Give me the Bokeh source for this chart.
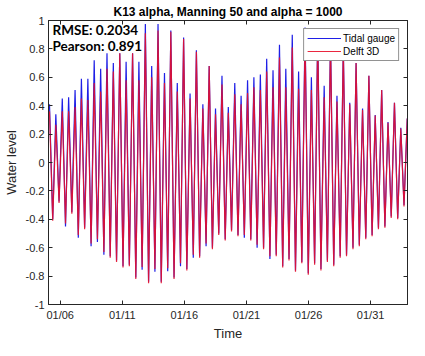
from bokeh.plotting import figure
from bokeh.models import (Range1d, FixedTicker, LinearAxis, Legend, LegendItem,
                          Label, Title, ColumnDataSource)
from bokeh.embed import file_html
from bokeh.resources import INLINE

# ---------------- data ----------------
# time is given in days after 01/06 00:00
high_days = [-0.86, -0.35, 0.17, 0.68, 1.20, 1.71, 2.23, 2.74, 3.26, 3.77,
             4.28, 4.80, 5.31, 5.83, 6.34, 6.86, 7.37, 7.88, 8.40, 8.91,
             9.43, 9.94, 10.46, 10.97, 11.49, 12.00, 12.51, 13.03, 13.54, 14.06,
             14.57, 15.09, 15.60, 16.12, 16.63, 17.14, 17.66, 18.17, 18.69, 19.20,
             19.72, 20.23, 20.74, 21.26, 21.77, 22.29, 22.80, 23.32, 23.83, 24.35,
             24.86, 25.37, 25.89, 26.40, 26.92, 27.43, 27.95]
high_gauge = [0.41, 0.34, 0.45, 0.46, 0.51, 0.59, 0.59, 0.72, 0.66, 0.77,
              0.70, 0.77, 0.71, 0.77, 0.71, 0.975, 0.68, 0.975, 0.63, 0.93,
              0.56, 0.88, 0.485, 0.79, 0.41, 0.68, 0.38, 0.61, 0.39, 0.56,
              0.47, 0.58, 0.60, 0.62, 0.73, 0.65, 0.83, 0.66, 0.90, 0.64,
              0.95, 0.60, 0.93, 0.54, 0.88, 0.47, 0.82, 0.42, 0.70, 0.38,
              0.61, 0.335, 0.51, 0.285, 0.42, 0.245, 0.31]
high_delft = [0.36, 0.265, 0.36, 0.36, 0.39, 0.45, 0.44, 0.56, 0.50, 0.66,
              0.64, 0.77, 0.58, 0.77, 0.58, 0.91, 0.60, 0.93, 0.56, 0.92,
              0.50, 0.87, 0.45, 0.78, 0.38, 0.68, 0.34, 0.55, 0.35, 0.48,
              0.41, 0.49, 0.53, 0.51, 0.64, 0.53, 0.74, 0.53, 0.81, 0.52,
              0.88, 0.51, 0.88, 0.46, 0.85, 0.43, 0.80, 0.41, 0.70, 0.37,
              0.61, 0.33, 0.51, 0.28, 0.42, 0.24, 0.31]

low_days = [-0.60, -0.09, 0.43, 0.94, 1.46, 1.97, 2.49, 3.00, 3.52, 4.03,
            4.54, 5.06, 5.57, 6.09, 6.60, 7.12, 7.63, 8.14, 8.66, 9.17,
            9.69, 10.20, 10.72, 11.23, 11.75, 12.26, 12.77, 13.29, 13.80, 14.32,
            14.83, 15.35, 15.86, 16.38, 16.89, 17.40, 17.92, 18.43, 18.95, 19.46,
            19.98, 20.49, 21.00, 21.52, 22.03, 22.55, 23.06, 23.58, 24.09, 24.61,
            25.12, 25.63, 26.15, 26.66, 27.18, 27.69]
low_gauge = [-0.40, -0.275, -0.45, -0.35, -0.53, -0.46, -0.59, -0.56, -0.65, -0.66,
             -0.69, -0.73, -0.72, -0.81, -0.755, -0.84, -0.77, -0.84, -0.765, -0.81,
             -0.73, -0.75, -0.67, -0.66, -0.59, -0.60, -0.50, -0.54, -0.475, -0.51,
             -0.53, -0.54, -0.60, -0.60, -0.68, -0.65, -0.73, -0.68, -0.76, -0.70,
             -0.78, -0.71, -0.75, -0.69, -0.72, -0.66, -0.65, -0.60, -0.58, -0.53,
             -0.51, -0.46, -0.45, -0.38, -0.39, -0.30]
low_delft = [-0.41, -0.285, -0.43, -0.36, -0.51, -0.47, -0.57, -0.54, -0.63, -0.67,
             -0.70, -0.74, -0.73, -0.82, -0.735, -0.85, -0.75, -0.85, -0.745, -0.82,
             -0.71, -0.76, -0.65, -0.67, -0.57, -0.61, -0.51, -0.55, -0.485, -0.52,
             -0.51, -0.55, -0.58, -0.61, -0.66, -0.66, -0.74, -0.69, -0.77, -0.71,
             -0.79, -0.72, -0.76, -0.70, -0.73, -0.67, -0.66, -0.61, -0.59, -0.54,
             -0.52, -0.47, -0.46, -0.39, -0.40, -0.31]

x_limit_days = [-0.94, 27.97]
x_tick_days = [0, 5, 10, 15, 20, 25]
x_tick_labels = ["01/06", "01/11", "01/16", "01/21", "01/26", "01/31"]
y_ticks = [-1, -0.8, -0.6, -0.4, -0.2, 0, 0.2, 0.4, 0.6, 0.8, 1]
y_tick_labels = ["-1", "-0.8", "-0.6", "-0.4", "-0.2", "0", "0.2", "0.4", "0.6", "0.8", "1"]

title_text = "K13 alpha, Manning 50 and alpha = 1000"
x_label = "Time"
y_label = "Water level"
series_names = ["Tidal gauge", "Delft 3D"]
stats_text = ["RMSE: 0.2034", "Pearson: 0.891"]

# ---------------- build table ----------------
pts = sorted(zip(high_days + low_days, high_gauge + low_gauge, high_delft + low_delft))
src = ColumnDataSource(dict(day=[t[0] for t in pts],
                            gauge=[t[1] for t in pts],
                            delft=[t[2] for t in pts]))

AX = "#262626"
FONT = "Liberation Sans"

p = figure(width=409, height=340,
           output_backend="svg", toolbar_location=None,
           x_range=Range1d(x_limit_days[0], x_limit_days[1]),
           y_range=Range1d(-1, 1),
           min_border_left=45, min_border_right=2, min_border_top=16, min_border_bottom=0)
p.grid.visible = False
p.outline_line_color = AX
p.background_fill_color = "white"
p.border_fill_color = "white"

p.title.text = title_text
p.title.align = "center"
p.title.text_font = FONT
p.title.text_font_size = "12px"
p.title.text_font_style = "bold"
p.title.text_color = "black"
p.title.standoff = 4

def style_axis(ax):
    ax.axis_line_color = AX
    ax.major_tick_line_color = AX
    ax.major_tick_in = 4
    ax.major_tick_out = 0
    ax.minor_tick_line_color = None
    ax.major_label_text_font = FONT
    ax.major_label_text_font_size = "11px"
    ax.major_label_text_color = AX
    ax.axis_label_text_font = FONT
    ax.axis_label_text_font_size = "13px"
    ax.axis_label_text_font_style = "normal"
    ax.axis_label_text_color = AX

xa = p.xaxis[0]
xa.ticker = FixedTicker(ticks=x_tick_days)
xa.major_label_overrides = {t: l for t, l in zip(x_tick_days, x_tick_labels)}
style_axis(xa)
xa.major_label_standoff = 4

ya = p.yaxis[0]
ya.ticker = FixedTicker(ticks=y_ticks)
ya.major_label_overrides = {t: l for t, l in zip(y_ticks, y_tick_labels)}
ya.axis_label = y_label
style_axis(ya)
ya.major_label_standoff = 4
ya.axis_label_standoff = 4

# x-axis title as a text panel below the tick labels
p.add_layout(Title(text=x_label, align="center", text_font=FONT, text_font_size="13px",
                   text_font_style="normal", text_color=AX, standoff=0), "below")

# box ticks along the top and right (no labels drawn)
ta = LinearAxis(ticker=FixedTicker(ticks=x_tick_days))
style_axis(ta)
ta.major_label_text_font_size = "1px"
ta.major_label_text_color = None
ta.major_label_standoff = 0
p.add_layout(ta, "above")

ra = LinearAxis(ticker=FixedTicker(ticks=y_ticks))
style_axis(ra)
ra.major_label_text_font_size = "1px"
ra.major_label_text_color = None
ra.major_label_standoff = 0
p.add_layout(ra, "right")

r1 = p.line("day", "gauge", source=src, line_color="#1f1fe6", line_width=1.2)
r2 = p.line("day", "delft", source=src, line_color="#e8102a", line_width=1.2, line_alpha=0.9)

legend = Legend(items=[LegendItem(label=series_names[0], renderers=[r1]),
                       LegendItem(label=series_names[1], renderers=[r2])],
                location="top_right")
legend.label_text_font = FONT
legend.label_text_font_size = "10px"
legend.label_text_color = "black"
legend.glyph_width = 34
legend.glyph_height = 12
legend.label_height = 12
legend.label_standoff = 2
legend.padding = 3
legend.spacing = 1
legend.margin = 8
legend.border_line_color = AX
legend.border_line_width = 1
legend.background_fill_color = "white"
legend.background_fill_alpha = 1
p.add_layout(legend)

for txt, yv in zip(stats_text, [0.93, 0.82]):
    p.add_layout(Label(x=-0.62, y=yv, text=txt, text_font="Lato",
                       text_font_style="bold", text_font_size="13.5px",
                       text_color="black", text_baseline="middle"))

open("out.html", "w").write(file_html(p, INLINE))
